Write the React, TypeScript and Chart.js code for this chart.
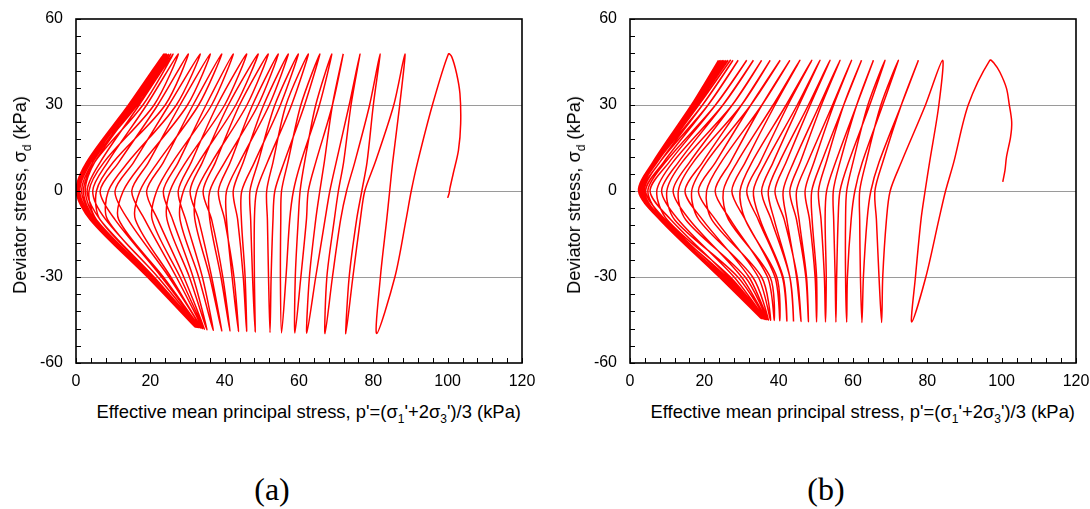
import React, { useEffect, useRef } from 'react';
import { Chart, registerables } from 'chart.js';

Chart.register(...registerables);

// ---------- shared axis data ----------
const X_MIN = 0;
const X_MAX = 120;
const X_STEP = 20;
const Y_MIN = -60;
const Y_MAX = 60;
const Y_STEP = 30;
const X_MINOR = 4;
const Y_MINOR = 6;

// q-levels (kPa) at which each half-cycle's p' was read
const DOWN_LEVELS = [30, 10, 0, -10, -30];
const UP_LEVELS = [-30, -10, 0, 10, 30];

// ---------- chart (a) ----------
const aLoadP = [100.0, 100.4, 100.6, 101.5, 102.9, 103.5, 103.3, 102.4, 101.1];
const aLoadQ = [-2.4, -0.8, 0.9, 6.1, 14.2, 23.5, 34.0, 41.0, 46.8];
const A_TOP_Q = 47.8;
const aTopP = [100.2, 88.5, 81.8, 76.4, 71.9, 68.8, 65.6, 62.5, 59.8, 57.1, 54.4, 51.7, 49.0, 45.9, 42.3, 39.2, 36.1, 33.4, 30.2, 27.5, 26.1, 25.5, 25.0, 24.5, 24.2, 23.9, 23.6];
const aBotP = [80.9, 72.6, 67.0, 62.1, 58.9, 55.3, 52.2, 48.2, 45.9, 43.7, 41.4, 39.2, 36.9, 35.2, 34.5, 34.0, 33.6, 33.3, 33.0, 32.8, 32.6, 32.4, 32.3, 32.2, 32.1, 32.0, 31.9];
const aBotQ = [-49.7, -49.8, -49.8, -49.6, -49.5, -49.5, -49.4, -49.2, -49.0, -49.0, -48.8, -48.8, -48.6, -48.4, -48.2, -48.0, -47.8, -47.7, -47.6, -47.6, -47.5, -47.5, -47.5, -47.4, -47.4, -47.4, -47.3];
const aDown30 = [95.9, 85.5, 79.0, 73.5, 69.0, 65.5, 61.5, 58.0, 55.0, 52.0, 49.0, 46.0, 43.0, 40.0, 36.5, 33.0, 30.0, 27.0, 24.0, 21.0, 18.0, 16.5, 15.5, 15.0, 14.6, 14.3, 14.1];
const aDown10 = [91.9, 80.5, 75.0, 70.0, 64.5, 60.5, 56.0, 51.5, 48.0, 44.0, 40.0, 36.5, 33.0, 29.5, 26.0, 22.0, 18.0, 14.0, 10.0, 7.5, 5.0, 4.0, 3.5, 3.2, 3.0, 2.9, 2.8];
const aDown0 = [90.2, 77.7, 72.8, 68.3, 62.5, 58.5, 53.5, 48.6, 44.6, 40.5, 36.0, 32.5, 28.9, 25.3, 21.7, 17.2, 12.7, 8.7, 5.5, 3.5, 2.0, 1.0, 0.5, 0.3, 0.2, 0.1, 0.0];
const aDownM10 = [88.8, 76.5, 71.2, 67.0, 62.0, 57.5, 53.0, 48.0, 44.5, 40.5, 36.0, 32.0, 28.0, 24.5, 20.5, 16.0, 11.5, 8.5, 6.5, 5.5, 5.0, 4.6, 4.4, 4.2, 4.0, 3.9, 3.8];
const aDownM30 = [85.8, 74.5, 69.0, 64.5, 60.5, 56.5, 52.5, 48.0, 45.5, 42.0, 39.0, 36.0, 33.0, 30.5, 28.0, 25.5, 23.5, 22.0, 21.0, 20.5, 20.0, 19.8, 19.6, 19.5, 19.4, 19.3, 19.2];
const aUpM30 = [81.9, 73.5, 67.5, 62.8, 59.0, 55.0, 51.8, 47.5, 45.0, 42.5, 39.5, 36.5, 34.0, 31.5, 29.0, 27.0, 25.0, 23.0, 22.0, 21.0, 20.5, 20.0, 19.8, 19.6, 19.5, 19.4];
const aUpM10 = [83.6, 75.5, 69.5, 64.5, 59.8, 55.1, 51.5, 47.0, 43.5, 40.0, 36.5, 33.0, 29.5, 26.0, 22.0, 18.5, 14.0, 10.5, 8.0, 6.5, 5.5, 5.0, 4.6, 4.5, 4.4, 4.3];
const aUp0 = [84.4, 76.9, 70.6, 65.6, 60.3, 55.3, 51.3, 46.8, 42.3, 38.3, 34.2, 30.7, 27.5, 23.5, 19.0, 15.0, 10.5, 6.5, 4.5, 3.0, 2.5, 1.5, 1.0, 0.6, 0.4, 0.3];
const aUp10 = [85.2, 78.3, 72.0, 66.8, 61.5, 57.0, 53.0, 49.0, 45.0, 41.5, 37.5, 34.0, 31.0, 27.5, 23.5, 19.5, 15.5, 11.5, 8.5, 6.5, 5.0, 4.5, 4.0, 3.8, 3.6, 3.5];
const aUp30 = [87.1, 80.0, 74.0, 69.0, 64.5, 60.5, 56.5, 53.5, 50.5, 47.5, 44.0, 41.0, 38.0, 35.0, 31.5, 28.0, 25.0, 22.0, 19.0, 17.0, 16.0, 15.5, 15.0, 14.8, 14.6, 14.5];

// ---------- chart (b) ----------
const bLoadP = [100.3, 100.9, 101.3, 102.4, 102.7, 102.0, 101.3, 99.5, 98.0];
const bLoadQ = [3.2, 7.3, 11.9, 18.9, 24.1, 30.5, 35.8, 41.5, 44.5];
const B_TOP_Q = 45.6;
const bTopP = [96.8, 84.1, 77.6, 72.2, 68.6, 65.5, 62.3, 59.6, 56.5, 53.8, 51.1, 48.9, 45.7, 43.0, 40.4, 37.7, 35.4, 33.2, 31.4, 29.1, 27.7, 27.0, 26.4, 25.9, 25.4, 25.0, 24.6, 24.2, 23.8];
const bBotP = [75.8, 67.7, 62.4, 58.3, 55.4, 52.6, 50.2, 48.0, 46.0, 44.0, 42.2, 40.3, 38.8, 37.8, 37.2, 36.8, 36.5, 36.3, 36.2, 36.1, 36.0, 35.9, 35.8, 35.7, 35.6, 35.5, 35.4, 35.3, 35.2];
const bBotQ = [-45.7, -45.9, -45.9, -45.8, -45.8, -45.7, -45.7, -45.6, -45.5, -45.5, -45.4, -45.3, -45.2, -45.1, -45.0, -44.9, -44.8, -44.8, -44.7, -44.7, -44.6, -44.6, -44.6, -44.5, -44.5, -44.5, -44.5, -44.4, -44.4];
const bDown30 = [91.0, 79.5, 73.0, 68.0, 64.5, 61.0, 57.5, 54.5, 51.0, 48.0, 45.0, 42.0, 38.5, 35.5, 32.5, 30.0, 27.5, 25.0, 23.0, 21.0, 19.5, 18.5, 18.0, 17.6, 17.3, 17.0, 16.8, 16.6, 16.5];
const bDown10 = [87.1, 73.0, 67.0, 62.5, 58.8, 55.3, 51.5, 47.8, 44.0, 40.2, 36.5, 32.8, 28.8, 24.5, 20.5, 17.0, 14.0, 11.5, 9.5, 8.0, 7.2, 6.8, 6.6, 6.5, 6.4, 6.3, 6.2, 6.2, 6.1];
const bDown0 = [84.9, 70.0, 64.8, 60.5, 56.5, 52.9, 48.9, 44.8, 41.2, 37.2, 33.2, 29.6, 25.1, 20.6, 16.6, 13.0, 9.9, 7.2, 4.8, 3.8, 3.2, 2.9, 2.8, 2.7, 2.6, 2.5, 2.4, 2.4, 2.3];
const bDownM10 = [83.1, 69.0, 63.8, 59.5, 56.0, 52.5, 49.0, 45.5, 42.2, 38.8, 35.0, 31.0, 26.5, 22.0, 18.5, 15.0, 12.0, 10.0, 9.0, 8.6, 8.4, 8.3, 8.2, 8.2, 8.1, 8.1, 8.0, 8.0, 8.0];
const bDownM30 = [79.6, 68.0, 62.8, 58.5, 55.6, 52.8, 50.2, 47.5, 44.8, 43.0, 41.2, 39.5, 37.7, 35.4, 33.0, 31.0, 29.0, 27.0, 26.0, 25.0, 24.8, 24.6, 24.5, 24.4, 24.3, 24.2, 24.2, 24.1, 24.0];
const bUpM30 = [76.8, 67.0, 62.0, 58.0, 55.2, 52.3, 49.8, 47.3, 45.0, 43.0, 41.0, 39.0, 37.0, 34.5, 32.0, 30.0, 28.0, 26.5, 25.5, 25.0, 24.7, 24.5, 24.4, 24.3, 24.2, 24.1, 24.0, 24.0];
const bUpM10 = [78.3, 66.3, 61.8, 58.0, 54.8, 51.4, 48.3, 44.8, 41.5, 38.0, 34.5, 31.0, 27.0, 23.0, 19.5, 16.0, 13.0, 11.0, 9.5, 8.8, 8.5, 8.4, 8.3, 8.2, 8.1, 8.1, 8.0, 8.0];
const bUp0 = [79.4, 65.9, 61.8, 58.3, 54.7, 50.7, 47.1, 43.0, 39.0, 35.4, 31.4, 27.4, 22.9, 18.4, 14.8, 11.6, 8.5, 5.4, 4.2, 3.5, 3.0, 2.8, 2.7, 2.6, 2.5, 2.5, 2.4, 2.3];
const bUp10 = [80.6, 68.0, 63.5, 60.0, 56.5, 52.8, 49.5, 45.8, 42.0, 38.5, 35.0, 31.0, 27.0, 23.0, 19.5, 16.0, 13.0, 10.5, 9.0, 8.0, 7.3, 7.0, 6.8, 6.7, 6.6, 6.5, 6.5, 6.4];
const bUp30 = [83.1, 73.0, 67.5, 64.0, 61.0, 57.5, 54.8, 51.5, 48.5, 45.5, 42.5, 39.0, 35.5, 32.5, 30.0, 27.5, 25.0, 23.0, 21.0, 19.5, 18.5, 18.0, 17.6, 17.3, 17.0, 16.8, 16.6, 16.5];

type Pt = { x: number; y: number };

function buildPath(
  loadP: number[], loadQ: number[], topP: number[], topQ: number,
  botP: number[], botQ: number[], down: number[][], up: number[][]
): Pt[] {
  const pts: Pt[] = [];
  loadP.forEach((p, i) => pts.push({ x: p, y: loadQ[i] }));
  for (let k = 0; k < topP.length; k++) {
    pts.push({ x: topP[k], y: topQ });
    DOWN_LEVELS.forEach((q, j) => pts.push({ x: down[j][k], y: q }));
    pts.push({ x: botP[k], y: botQ[k] });
    if (k < topP.length - 1) {
      UP_LEVELS.forEach((q, j) => pts.push({ x: up[j][k], y: q }));
    }
  }
  return pts;
}

const pathA = buildPath(aLoadP, aLoadQ, aTopP, A_TOP_Q, aBotP, aBotQ,
  [aDown30, aDown10, aDown0, aDownM10, aDownM30], [aUpM30, aUpM10, aUp0, aUp10, aUp30]);
const pathB = buildPath(bLoadP, bLoadQ, bTopP, B_TOP_Q, bBotP, bBotQ,
  [bDown30, bDown10, bDown0, bDownM10, bDownM30], [bUpM30, bUpM10, bUp0, bUp10, bUp30]);

const SANS = '"Liberation Sans", Arial, sans-serif';
const SERIF = '"Liberation Serif", "Times New Roman", serif';

const CANVAS_W = 536;
const CANVAS_H = 400;
const AXIS_W = 76;
const PAD_RIGHT = 14;
const PAD_TOP = 19;
const PLOT_BOTTOM = 363;

const framePlugin = {
  id: 'frameTicks',
  afterDraw(chart: any) {
    const { ctx, chartArea } = chart;
    const { left, right, top, bottom } = chartArea;
    const xs = chart.scales.x;
    const ys = chart.scales.y;
    ctx.save();
    ctx.strokeStyle = '#000';
    ctx.lineWidth = 1;
    ctx.beginPath();
    for (let v = X_MIN; v <= X_MAX; v += X_MINOR) {
      const px = Math.round(xs.getPixelForValue(v)) + 0.5;
      ctx.moveTo(px, bottom);
      ctx.lineTo(px, bottom - 5);
    }
    for (let v = Y_MIN; v <= Y_MAX; v += Y_MINOR) {
      const py = Math.round(ys.getPixelForValue(v)) + 0.5;
      ctx.moveTo(left, py);
      ctx.lineTo(left + 5, py);
    }
    ctx.stroke();
    ctx.lineWidth = 1.6;
    ctx.strokeRect(left, top, right - left, bottom - top);
    ctx.restore();
  },
};

function StressChart({ data }: { data: Pt[] }) {
  const ref = useRef<HTMLCanvasElement | null>(null);
  useEffect(() => {
    if (!ref.current) return;
    const chart = new Chart(ref.current, {
      type: 'scatter',
      data: {
        datasets: [
          {
            data,
            showLine: true,
            borderColor: '#ff0000',
            borderWidth: 1.5,
            pointRadius: 0,
            tension: 0.3,
            fill: false,
          } as any,
        ],
      },
      options: {
        animation: false,
        responsive: false,
        maintainAspectRatio: false,
        devicePixelRatio: 1,
        events: [],
        layout: { padding: { left: 0, right: PAD_RIGHT, top: PAD_TOP, bottom: 0 } },
        plugins: { legend: { display: false }, tooltip: { enabled: false }, title: { display: false } },
        scales: {
          x: {
            type: 'linear',
            position: 'bottom',
            min: X_MIN,
            max: X_MAX,
            ticks: { stepSize: X_STEP, color: '#000', font: { family: SANS, size: 16 }, padding: 9, maxRotation: 0, autoSkip: false },
            grid: { display: false, drawTicks: false },
            border: { display: false },
            afterFit: (s: any) => {
              s.height = CANVAS_H - PLOT_BOTTOM;
              s.paddingLeft = 0;
              s.paddingRight = 0;
              s.paddingTop = 0;
              s.paddingBottom = 0;
            },
          },
          y: {
            type: 'linear',
            min: Y_MIN,
            max: Y_MAX,
            ticks: { stepSize: Y_STEP, color: '#000', font: { family: SANS, size: 16 }, padding: 13 },
            grid: {
              drawTicks: false,
              lineWidth: 1,
              color: (c: any) => (c.tick && Math.abs(c.tick.value) === 60 ? 'rgba(0,0,0,0)' : '#9a9a9a'),
            },
            border: { display: false },
            afterFit: (s: any) => {
              s.width = AXIS_W;
              s.paddingLeft = 0;
              s.paddingRight = 0;
              s.paddingTop = 0;
              s.paddingBottom = 0;
            },
          },
        },
      } as any,
      plugins: [framePlugin],
    });
    return () => chart.destroy();
  }, [data]);
  return <canvas ref={ref} width={CANVAS_W} height={CANVAS_H} style={{ width: CANVAS_W, height: CANVAS_H, display: 'block' }} />;
}

const subStyle: React.CSSProperties = { fontSize: 12, position: 'relative', top: 5, lineHeight: 0 };

function Panel({ left, data, tag }: { left: number; data: Pt[]; tag: string }) {
  const plotLeft = left + AXIS_W;
  const plotRight = left + CANVAS_W - PAD_RIGHT;
  return (
    <>
      <div style={{ position: 'absolute', left, top: 0, width: CANVAS_W, height: CANVAS_H }}>
        <StressChart data={data} />
      </div>
      <div
        style={{
          position: 'absolute', left: plotLeft - 56, top: 195,
          transform: 'translate(-50%, -50%) rotate(-90deg)',
          whiteSpace: 'nowrap', fontFamily: SANS, fontSize: 18.2, lineHeight: '20px', color: '#000',
        }}
      >
        Deviator stress, σ<span style={subStyle}>d</span> (kPa)
      </div>
      <div
        style={{
          position: 'absolute', left: plotLeft - 200, width: plotRight - 1 - (plotLeft - 200), top: 402,
          textAlign: 'right', whiteSpace: 'nowrap', fontFamily: SANS, fontSize: 18.4, lineHeight: '20px', color: '#000',
        }}
      >
        Effective mean principal stress, p'=(σ<span style={subStyle}>1</span>'+2σ<span style={subStyle}>3</span>')/3 (kPa)
      </div>
      <div
        style={{
          position: 'absolute', left: plotLeft + 196, top: 489, transform: 'translate(-50%, -50%)',
          fontFamily: SERIF, fontSize: 32, lineHeight: 1, color: '#000', whiteSpace: 'nowrap',
        }}
      >
        {tag}
      </div>
    </>
  );
}

export default function App() {
  return (
    <div style={{ position: 'absolute', left: 0, top: 0, width: 1090, height: 509, background: '#fff', overflow: 'hidden' }}>
      <Panel left={0} data={pathA} tag="(a)" />
      <Panel left={554} data={pathB} tag="(b)" />
    </div>
  );
}
